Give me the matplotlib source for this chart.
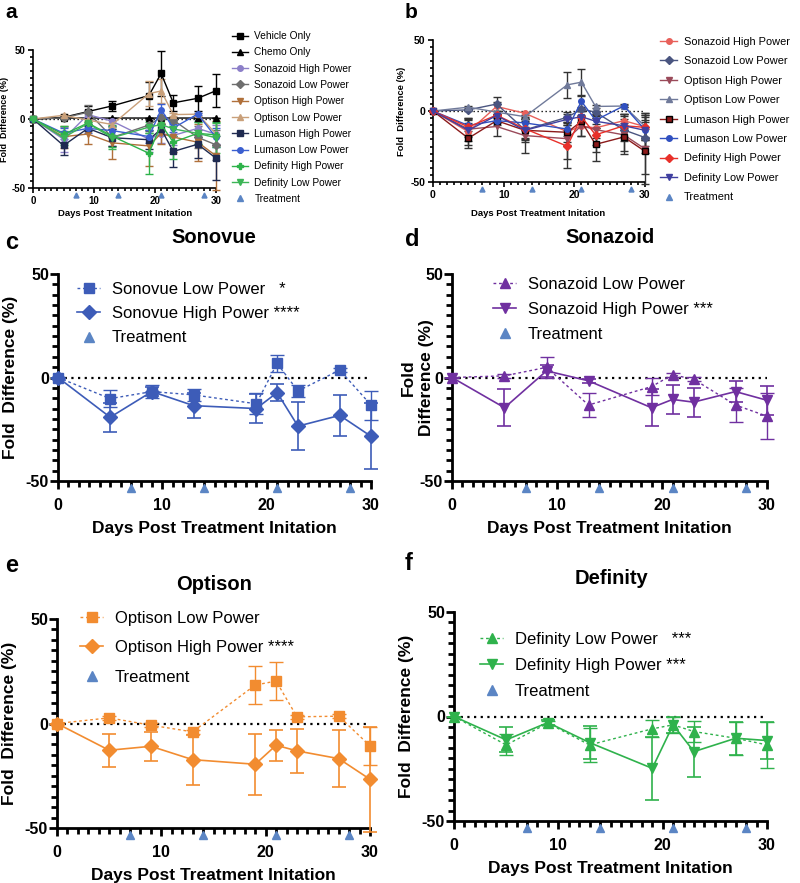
import numpy as np
import matplotlib
matplotlib.use("Agg")
import matplotlib.pyplot as plt
from matplotlib.lines import Line2D
from matplotlib.ticker import MultipleLocator

plt.rcParams['font.family'] = ['Liberation Sans', 'DejaVu Sans']
plt.rcParams['axes.unicode_minus'] = False

days = [0, 5, 9, 13, 19, 21, 23, 27, 30]
treat_days = [7, 14, 21, 28]

vehicle = [0, 1.2, 5.4, 9.5, 17, 33, 11.7, 15, 20.5]
vehicle_err = [0, 1, 4, 3.5, 10, 16, 6, 9, 12]
chemo = [0, 0.7, 0.7, 0.7, 0.7, 0.7, 0.7, 0.7, 0.7]
chemo_err = [0, 0, 0, 0, 0, 0, 0, 0, 0]

sonovue_low = [0, -10.2, -6.8, -8.4, -12.7, 6.8, -6.5, 3.6, -13.3]
sonovue_low_err = [0, 4, 3, 3, 5, 4, 3, 1, 7]
sonovue_high = [0, -19.2, -6.8, -13.6, -15, -7.3, -23.5, -18.3, -28.4]
sonovue_high_err = [0, 7, 2, 6, 7, 4, 11.5, 10, 16]

sonazoid_low = [0, 0.8, 4.9, -13.3, -4.4, 1.3, -0.8, -13.3, -18.7]
sonazoid_low_err = [0, 1, 5, 6, 4, 1, 1, 8, 11]
sonazoid_high = [0, -14.6, 3.2, -1.6, -14.6, -10.6, -11.9, -6.8, -11]
sonazoid_high_err = [0, 9, 3, 1, 9, 7, 7, 5, 7]

optison_low = [0, 2.7, -0.8, -4, 18.4, 20.3, 3.2, 3.5, -10.7]
optison_low_err = [0, 1, 1, 1, 9, 9, 1, 1, 9]
optison_high = [0, -12.8, -10.9, -17.3, -19.5, -10.4, -13.1, -16.8, -26.7]
optison_high_err = [0, 8, 7, 12, 14.5, 7.5, 10.5, 13.5, 25]

definity_low = [0, -13.6, -3.2, -13.6, -5.9, -4, -7.2, -10.4, -13.6]
definity_low_err = [0, 5, 1, 8, 4, 4, 5, 8, 11]
definity_high = [0, -11.2, -2.9, -12.5, -24.8, -4, -16.8, -10.4, -11.5]
definity_high_err = [0, 6, 1, 8, 15, 4, 12, 8, 9]

TREAT_C = '#5b85c4'
W, H = 800, 883
fig = plt.figure(figsize=(W / 100, H / 100), dpi=100)


def px_axes(x0, y0, x1, y1):
    return fig.add_axes([x0 / W, 1 - y1 / H, (x1 - x0) / W, (y1 - y0) / H])


def style_ax(ax, fs, lw, hpx, xpad, ypad):
    for s in ['top', 'right']:
        ax.spines[s].set_visible(False)
    for s in ['left', 'bottom']:
        ax.spines[s].set_linewidth(lw)
    ax.set_xlim(0, 30)
    ax.set_ylim(-50, 50)
    ax.set_xticks([0, 10, 20, 30])
    ax.set_yticks([-50, 0, 50])
    ax.xaxis.set_minor_locator(MultipleLocator(1))
    ax.yaxis.set_minor_locator(MultipleLocator(5))
    ax.tick_params(which='major', length=lw * 3, width=lw, labelsize=fs)
    ax.tick_params(axis='x', which='major', pad=xpad)
    ax.tick_params(axis='y', which='major', pad=ypad)
    ax.tick_params(which='minor', length=lw * 2, width=lw)
    for t in ax.get_xticklabels() + ax.get_yticklabels():
        t.set_fontweight('bold')
    ax.plot([0, 30], [0, 0], ls=(0, (1, 2)), color='black', lw=lw * 0.8, zorder=1)
    off = 7 * 100 / hpx
    ax.plot(treat_days, [-50 - off] * 4, ls='none', marker='^', color=TREAT_C,
            ms=lw * 3, clip_on=False, zorder=5)


def series(ax, y, err, color, marker, ls, ms, lw, ecolor=None, mec=None):
    ax.errorbar(days, y, yerr=err, color=color, marker=marker, ls=ls, ms=ms, lw=lw,
                capsize=ms * 0.7, elinewidth=lw, capthick=lw,
                ecolor=ecolor or color, mec=mec or color, clip_on=False, zorder=3)


def treat_handle(ms):
    return Line2D([], [], ls='none', marker='^', color=TREAT_C, ms=ms)


# ---- panel a ----
ax = px_axes(33, 50, 216, 188)
style_ax(ax, 7, 1.2, 138, 2, 2)
a_series = [
    ('Vehicle Only', vehicle, vehicle_err, 'black', 's'),
    ('Chemo Only', chemo, chemo_err, 'black', '^'),
    ('Sonazoid High Power', sonazoid_high, sonazoid_high_err, '#8c7fc8', 'o'),
    ('Sonazoid Low Power', sonazoid_low, sonazoid_low_err, '#6e6e6e', 'D'),
    ('Optison High Power', optison_high, optison_high_err, '#b0703a', 'v'),
    ('Optison Low Power', optison_low, optison_low_err, '#c9a07a', '^'),
    ('Lumason High Power', sonovue_high, sonovue_high_err, '#1f2a50', 's'),
    ('Lumason Low Power', sonovue_low, sonovue_low_err, '#3b5fd0', 'o'),
    ('Definity High Power', definity_high, definity_high_err, '#2db34a', 'P'),
    ('Definity Low Power', definity_low, definity_low_err, '#3cb556', 'v'),
]
handles = []
for lab, y, e, c, m in a_series:
    series(ax, y, e, c, m, '-', 4, 1.0)
    handles.append(Line2D([], [], color=c, marker=m, ms=4, lw=1.0))
handles.append(treat_handle(4))
ax.legend(handles, [s[0] for s in a_series] + ['Treatment'], loc='upper left',
          bbox_to_anchor=(223 / W, 1 - 22 / H), bbox_transform=fig.transFigure,
          frameon=False, fontsize=7.3, labelspacing=0.62, handlelength=1.6,
          handletextpad=0.6)
ax.set_ylabel('Fold  Difference (%)', fontsize=6.5, fontweight='bold')
ax.yaxis.set_label_coords(-0.13, 0.5)
fig.text(125 / W, 1 - 214 / H, 'Days Post Treatment Initation', ha='center', va='center',
         fontsize=6.8, fontweight='bold')
fig.text(5 / W, 1 - 12 / H, 'a', fontsize=15, fontweight='bold', va='center')

# ---- panel b ----
ax = px_axes(433, 40, 645, 182)
style_ax(ax, 7.5, 1.2, 142, 2, 2)
b_series = [
    ('Sonazoid High Power', sonazoid_high, sonazoid_high_err, '#e8605a', 'o', None),
    ('Sonazoid Low Power', sonazoid_low, sonazoid_low_err, '#4a5580', 'D', None),
    ('Optison High Power', optison_high, optison_high_err, '#9a4a5a', 'v', None),
    ('Optison Low Power', optison_low, optison_low_err, '#707a9a', '^', None),
    ('Lumason High Power', sonovue_high, sonovue_high_err, '#8b1a1a', 's', 'black'),
    ('Lumason Low Power', sonovue_low, sonovue_low_err, '#3050c0', 'o', None),
    ('Definity High Power', definity_high, definity_high_err, '#e8302a', 'D', None),
    ('Definity Low Power', definity_low, definity_low_err, '#4040a0', 'v', None),
]
handles = []
for lab, y, e, c, m, mec in b_series:
    series(ax, y, e, c, m, '-', 4, 1.0, ecolor='#333333', mec=mec)
    handles.append(Line2D([], [], color=c, marker=m, ms=4, lw=1.0, mec=mec or c))
handles.append(treat_handle(4))
ax.legend(handles, [s[0] for s in b_series] + ['Treatment'], loc='upper left',
          bbox_to_anchor=(650 / W, 1 - 27 / H), bbox_transform=fig.transFigure,
          frameon=False, fontsize=7.9, labelspacing=0.86, handlelength=1.6,
          handletextpad=0.6)
ax.set_ylabel('Fold  Difference (%)', fontsize=6.8, fontweight='bold')
ax.yaxis.set_label_coords(-0.127, 0.5)
fig.text(538 / W, 1 - 213 / H, 'Days Post Treatment Initation', ha='center', va='center',
         fontsize=6.8, fontweight='bold')
fig.text(405 / W, 1 - 12 / H, 'b', fontsize=15, fontweight='bold', va='center')


# ---- panels c-f ----
def big_panel(rect, letter, lpos, title, tpos, low, low_err, high, high_err, color,
              mlow, mhigh, lab_low, lab_high, ylab, ylab_x, leg_xy, leg_sp):
    ax = px_axes(*rect)
    hpx = rect[3] - rect[1]
    style_ax(ax, 11.5, 2.0, hpx, 6, 0.5)
    series(ax, low, low_err, color, mlow, (0, (2, 2)), 7, 1.0)
    series(ax, high, high_err, color, mhigh, '-', 7, 1.2)
    h = [Line2D([], [], color=color, marker=mlow, ms=7, ls=(0, (2, 2)), lw=1.0),
         Line2D([], [], color=color, marker=mhigh, ms=7, lw=1.2),
         treat_handle(7)]
    ax.legend(h, [lab_low, lab_high, 'Treatment'], loc='upper left',
              bbox_to_anchor=(leg_xy[0] / W, 1 - leg_xy[1] / H),
              bbox_transform=fig.transFigure, frameon=False, fontsize=12,
              labelspacing=leg_sp, handlelength=1.4, handletextpad=0.7)
    ax.set_ylabel(ylab, fontsize=12.5, fontweight='bold')
    ax.yaxis.set_label_coords(ylab_x, 0.5)
    ax.set_xlabel('Days Post Treatment Initation', fontsize=12.5, fontweight='bold',
                  labelpad=6)
    fig.text(tpos[0] / W, 1 - tpos[1] / H, title, ha='center', va='center',
             fontsize=14.5, fontweight='bold')
    fig.text(lpos[0] / W, 1 - lpos[1] / H, letter, fontsize=17, fontweight='bold',
             va='center')


big_panel((58, 274, 371, 481), 'c', (5, 243), 'Sonovue', (214, 238),
          sonovue_low, sonovue_low_err, sonovue_high, sonovue_high_err, '#3d5cb8',
          's', 'D', 'Sonovue Low Power   *', 'Sonovue High Power ****',
          'Fold  Difference (%)', -0.128, (62, 267), 0.55)
big_panel((452, 274, 767, 481), 'd', (405, 240), 'Sonazoid', (610, 238),
          sonazoid_low, sonazoid_low_err, sonazoid_high, sonazoid_high_err, '#7030a0',
          '^', 'v', 'Sonazoid Low Power', 'Sonazoid High Power ***',
          'Fold\nDifference (%)', -0.058, (478, 262), 0.6)
big_panel((57, 619, 370, 828), 'e', (5, 565), 'Optison', (214, 585),
          optison_low, optison_low_err, optison_high, optison_high_err, '#f28c30',
          's', 'D', 'Optison Low Power', 'Optison High Power ****',
          'Fold  Difference (%)', -0.128, (65, 596), 0.86)
big_panel((454, 612, 767, 821), 'f', (405, 563), 'Definity', (612, 578),
          definity_low, definity_low_err, definity_high, definity_high_err, '#2fb24c',
          '^', 'v', 'Definity Low Power   ***', 'Definity High Power ***',
          'Fold  Difference (%)', -0.128, (465, 617), 0.65)

fig.savefig('out.png', dpi=100)
